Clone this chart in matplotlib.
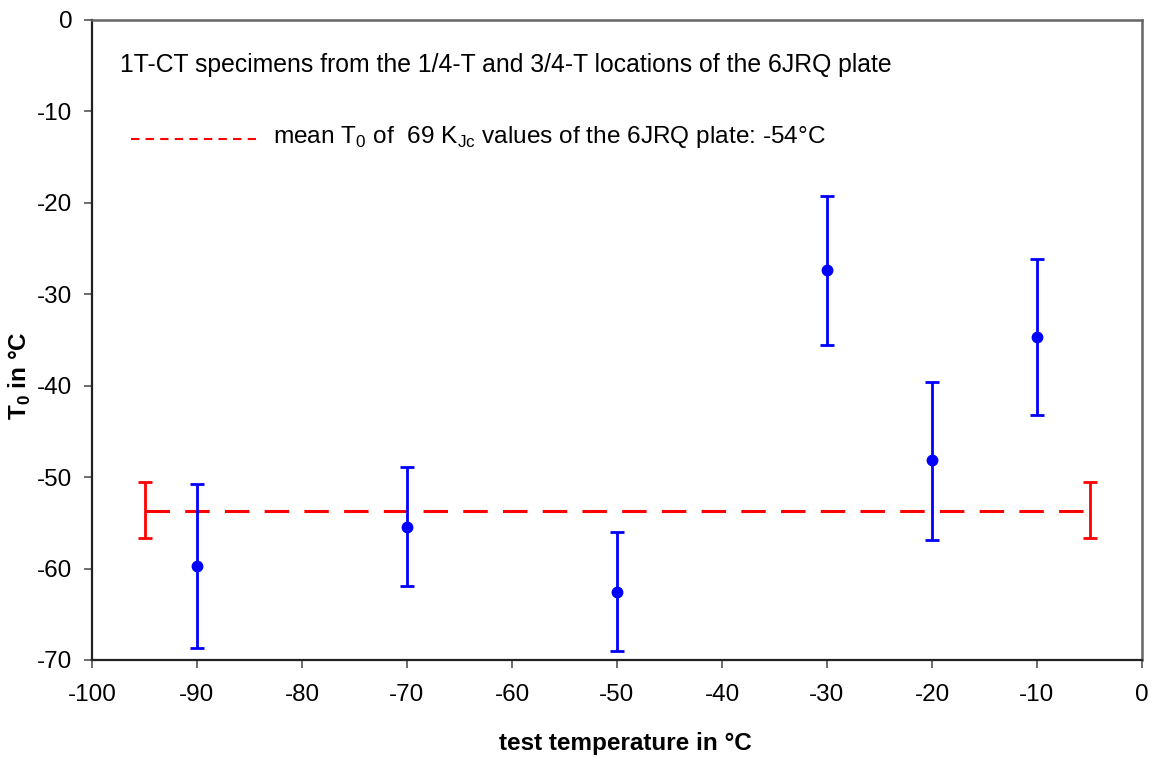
import matplotlib
matplotlib.use("Agg")
import matplotlib.pyplot as plt

plt.rcParams['font.family'] = ['Liberation Sans', 'DejaVu Sans']
plt.rcParams['axes.unicode_minus'] = False
plt.rcParams['mathtext.fontset'] = 'custom'
plt.rcParams['mathtext.rm'] = 'Liberation Sans'
plt.rcParams['mathtext.bf'] = 'Liberation Sans:bold'

# --- data -----------------------------------------------------------------
test_temp = [-90, -70, -50, -30, -20, -10]
t0        = [-59.7, -55.4, -62.6, -27.3, -48.1, -34.7]
t0_upper  = [-50.7, -48.9, -56.0, -19.2, -39.6, -26.1]
t0_lower  = [-68.7, -61.9, -69.0, -35.5, -56.9, -43.2]

mean_x     = [-95, -5]
mean_t0    = -53.7
mean_upper = -50.5
mean_lower = -56.7

# --- plot -----------------------------------------------------------------
fig = plt.figure(figsize=(11.55, 7.58), dpi=100)
# plot area: x 92..1142 px, y 20..660 px
ax = fig.add_axes([92 / 1155, 98 / 758, 1050 / 1155, 640 / 758])

yerr = [[c - lo for c, lo in zip(t0, t0_lower)],
        [hi - c for c, hi in zip(t0, t0_upper)]]
ax.errorbar(test_temp, t0, yerr=yerr, fmt='o', color='#0000ff', ms=7.5,
            elinewidth=2, capsize=5, capthick=2, zorder=3)

ax.plot(mean_x, [mean_t0, mean_t0], color='#ff0000', lw=2.2,
        dashes=(8, 5), zorder=2)
ax.errorbar(mean_x, [mean_t0, mean_t0],
            yerr=[[mean_t0 - mean_lower] * 2, [mean_upper - mean_t0] * 2],
            fmt='none', ecolor='#ff0000', elinewidth=2, capsize=5,
            capthick=2, zorder=2)

# legend-like line and texts
ax.plot([-96.3, -84.1], [-13.0, -13.0], color='#ff0000', lw=1.5,
        dashes=(4, 3))
ax.text(-82.8, -13.45, r"mean T$_0$ of  69 K$_{\mathrm{Jc}}$ values of the 6JRQ plate: -54°C",
        fontsize=17.6, va='baseline', ha='left')
ax.text(-97.3, -5.69, "1T-CT specimens from the 1/4-T and 3/4-T locations of the 6JRQ plate",
        fontsize=17.8, va='baseline', ha='left')

ax.set_xlim(-100, 0)
ax.set_ylim(-70, 0)
ax.set_xticks(range(-100, 1, 10))
ax.set_yticks(range(-70, 1, 10))
ax.tick_params(labelsize=17.5, direction='out', length=6, width=1.2,
               color='#555555')
ax.tick_params(axis='x', pad=11)
ax.tick_params(axis='y', pad=8)

for s in ['top', 'right']:
    ax.spines[s].set_color('#666666')
    ax.spines[s].set_linewidth(1.8)
for s in ['left', 'bottom']:
    ax.spines[s].set_color('#222222')
    ax.spines[s].set_linewidth(1.6)

ax.set_xlabel("test temperature in °C", fontsize=17.5, fontweight='bold')
ax.xaxis.set_label_coords(0.508, -0.131)
ax.xaxis.label.set_va('center')
ax.set_ylabel(r"T$_\mathbf{0}$ in °C", fontsize=17.5, fontweight='bold')
ax.yaxis.set_label_coords(-0.0686, 0.445)
ax.yaxis.label.set_va('center')

fig.savefig("out.png", dpi=100)
